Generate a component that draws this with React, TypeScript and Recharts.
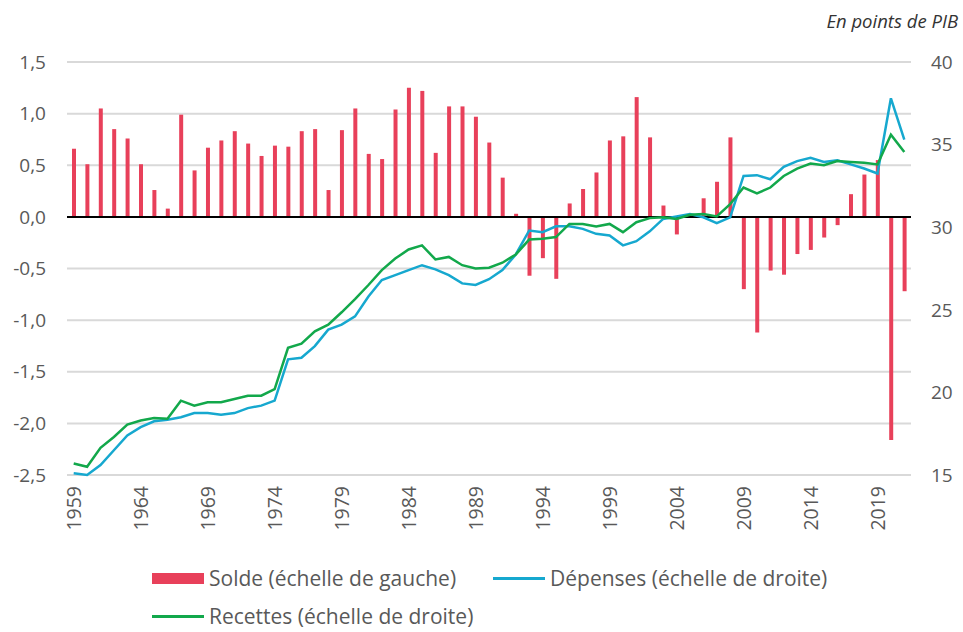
import React from 'react';
import {
  ComposedChart, Bar, Line, XAxis, YAxis, CartesianGrid, ReferenceLine
} from 'recharts';

// --- DONNÉES (en points de PIB) ---

const years = [
  1959, 1960, 1961, 1962, 1963, 1964, 1965, 1966, 1967, 1968,
  1969, 1970, 1971, 1972, 1973, 1974, 1975, 1976, 1977, 1978,
  1979, 1980, 1981, 1982, 1983, 1984, 1985, 1986, 1987, 1988,
  1989, 1990, 1991, 1992, 1993, 1994, 1995, 1996, 1997, 1998,
  1999, 2000, 2001, 2002, 2003, 2004, 2005, 2006, 2007, 2008,
  2009, 2010, 2011, 2012, 2013, 2014, 2015, 2016, 2017, 2018,
  2019, 2020, 2021,
];

// Solde (échelle de gauche)
const solde = [
  0.66, 0.51, 1.05, 0.85, 0.76, 0.51, 0.26, 0.08, 0.99, 0.45,
  0.67, 0.74, 0.83, 0.71, 0.59, 0.69, 0.68, 0.83, 0.85, 0.26,
  0.84, 1.05, 0.61, 0.56, 1.04, 1.25, 1.22, 0.62, 1.07, 1.07,
  0.97, 0.72, 0.38, 0.03, -0.57, -0.40, -0.60, 0.13, 0.27, 0.43,
  0.74, 0.78, 1.16, 0.77, 0.11, -0.17, 0.0, 0.18, 0.34, 0.77,
  -0.70, -1.12, -0.52, -0.56, -0.36, -0.32, -0.20, -0.08, 0.22, 0.41,
  0.55, -2.16, -0.72,
];

// Dépenses (échelle de droite)
const depenses = [
  15.1, 15.0, 15.6, 16.5, 17.4, 17.9, 18.25, 18.35, 18.5, 18.75,
  18.75, 18.65, 18.75, 19.05, 19.2, 19.5, 22.0, 22.1, 22.8, 23.8,
  24.1, 24.6, 25.8, 26.8, 27.1, 27.4, 27.7, 27.45, 27.1, 26.6,
  26.5, 26.85, 27.4, 28.35, 29.8, 29.7, 30.05, 30.05, 29.9, 29.6,
  29.5, 28.9, 29.15, 29.75, 30.5, 30.65, 30.8, 30.6, 30.25, 30.6,
  33.1, 33.15, 32.9, 33.65, 34.0, 34.2, 33.95, 34.05, 33.8, 33.55,
  33.25, 37.8, 35.3,
];

// Recettes (échelle de droite)
const recettes = [
  15.7, 15.5, 16.65, 17.3, 18.05, 18.3, 18.45, 18.4, 19.5, 19.2,
  19.4, 19.4, 19.6, 19.8, 19.8, 20.2, 22.7, 22.95, 23.7, 24.1,
  24.85, 25.65, 26.5, 27.4, 28.1, 28.65, 28.9, 28.05, 28.2, 27.7,
  27.5, 27.55, 27.85, 28.35, 29.25, 29.3, 29.4, 30.2, 30.2, 30.05,
  30.2, 29.7, 30.3, 30.55, 30.6, 30.5, 30.75, 30.8, 30.65, 31.4,
  32.4, 32.05, 32.4, 33.1, 33.55, 33.85, 33.75, 34.0, 33.95, 33.9,
  33.8, 35.6, 34.55,
];

const leftTicks = [-2.5, -2.0, -1.5, -1.0, -0.5, 0, 0.5, 1.0, 1.5];
const rightTicks = [15, 20, 25, 30, 35, 40];

const data = years.map((year, i) => ({
  year,
  solde: solde[i],
  depenses: depenses[i],
  recettes: recettes[i],
}));

const RED = '#E8405A';
const BLUE = '#16A8CF';
const GREEN = '#12A84B';
const TEXT = '#595959';
const FONT = '"Open Sans", sans-serif';

const fmtComma = (v: number) => v.toFixed(1).replace('.', ',');

// Étiquettes d'années verticales
const YearTick = (props: any) => {
  const { x, y, payload } = props;
  return (
    <text
      x={x}
      y={y}
      dy="0.36em"
      transform={`rotate(-90 ${x} ${y})`}
      textAnchor="end"
      fill={TEXT}
      fontSize={19.5}
      fontFamily={FONT}
    >
      {payload.value}
    </text>
  );
};

const legendItems = [
  { label: 'Solde (échelle de gauche)', color: RED, type: 'rect', left: 152, top: 564 },
  { label: 'Dépenses (échelle de droite)', color: BLUE, type: 'line', left: 493, top: 564 },
  { label: 'Recettes (échelle de droite)', color: GREEN, type: 'line', left: 152, top: 602 },
];

export default function App() {
  return (
    <div style={{ position: 'absolute', left: 0, top: 0, width: 963, height: 632, background: '#fff', fontFamily: FONT }}>
      <div style={{ position: 'absolute', right: 5, top: 8, fontSize: 18.5, fontStyle: 'italic', color: '#333' }}>
        En points de PIB
      </div>

      <ComposedChart
        width={963}
        height={545}
        data={data}
        margin={{ top: 62, right: 0, left: 0, bottom: 0 }}
        barCategoryGap={0}
      >
        <CartesianGrid yAxisId="left" vertical={false} stroke="#d9d9d9" strokeWidth={2} />
        <XAxis
          dataKey="year"
          interval={4}
          tick={<YearTick />}
          tickLine={false}
          axisLine={false}
          tickSize={0}
          tickMargin={11}
          height={70}
        />
        <YAxis
          yAxisId="left"
          domain={[-2.5, 1.5]}
          ticks={leftTicks}
          tickFormatter={fmtComma}
          tick={{ fill: TEXT, fontSize: 19, fontFamily: FONT }}
          tickLine={false}
          axisLine={false}
          tickSize={0}
          tickMargin={21}
          width={67}
          interval={0}
        />
        <YAxis
          yAxisId="right"
          orientation="right"
          domain={[15, 40]}
          ticks={rightTicks}
          tick={{ fill: TEXT, fontSize: 19, fontFamily: FONT }}
          tickLine={false}
          axisLine={false}
          tickSize={0}
          tickMargin={20}
          width={52}
          interval={0}
        />

        <Bar yAxisId="left" dataKey="solde" fill={RED} barSize={4} isAnimationActive={false} />
        <ReferenceLine yAxisId="left" y={0} stroke="#000" strokeWidth={2} />
        <Line
          yAxisId="right"
          type="linear"
          dataKey="depenses"
          stroke={BLUE}
          strokeWidth={2.5}
          dot={false}
          isAnimationActive={false}
        />
        <Line
          yAxisId="right"
          type="linear"
          dataKey="recettes"
          stroke={GREEN}
          strokeWidth={2.5}
          dot={false}
          isAnimationActive={false}
        />
      </ComposedChart>

      {legendItems.map((it) => (
        <div
          key={it.label}
          style={{ position: 'absolute', left: it.left, top: it.top, display: 'flex', alignItems: 'center', fontSize: 21, lineHeight: '28px', color: TEXT, whiteSpace: 'nowrap' }}
        >
          {it.type === 'rect' ? (
            <span style={{ display: 'inline-block', width: 52, height: 11, background: it.color, marginRight: 5 }} />
          ) : (
            <span style={{ display: 'inline-block', width: 52, height: 3, background: it.color, marginRight: 5 }} />
          )}
          <span>{it.label}</span>
        </div>
      ))}
    </div>
  );
}
